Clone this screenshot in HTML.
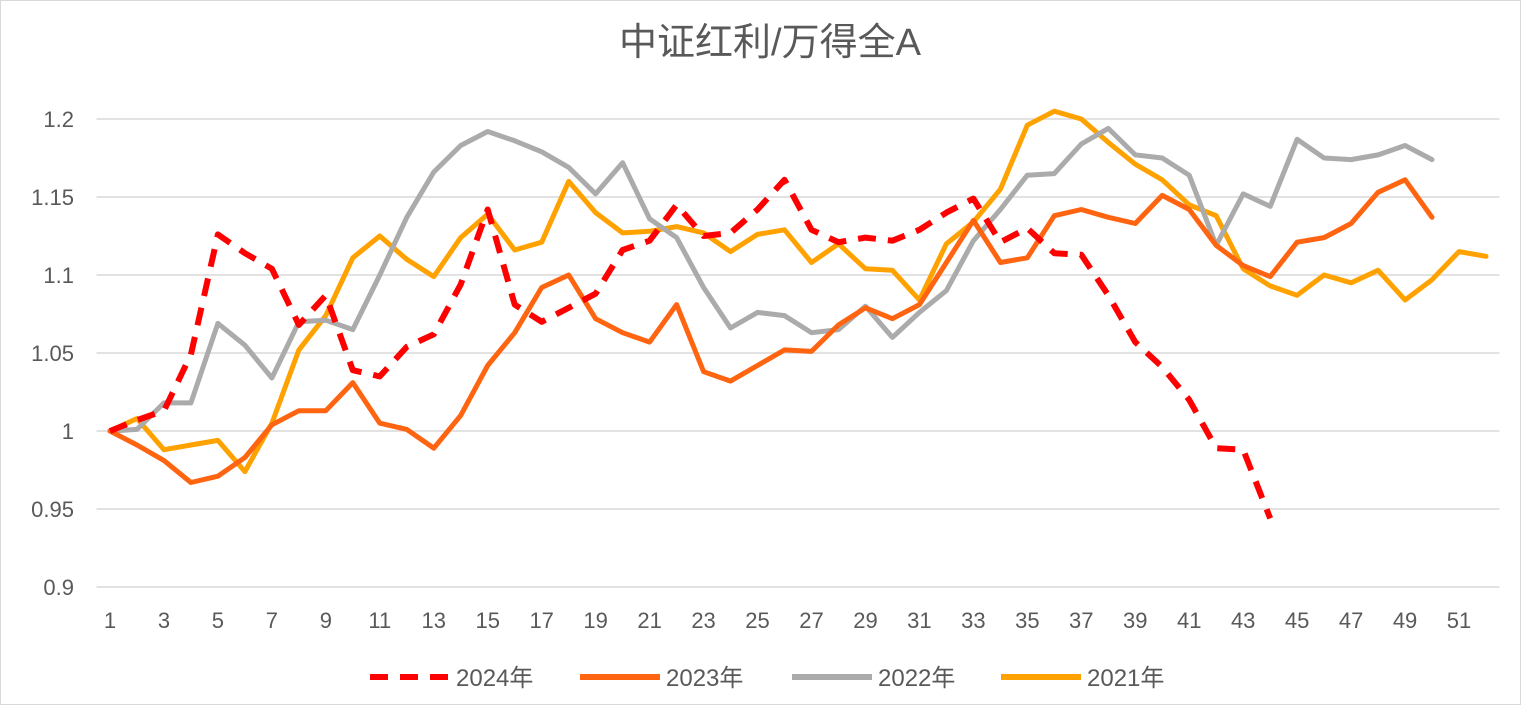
<!DOCTYPE html>
<html><head><meta charset="utf-8">
<style>
html,body{margin:0;padding:0;background:#fff;}
svg{display:block;font-family:"Liberation Sans","Noto Sans CJK SC",sans-serif;}
</style></head>
<body>
<svg id="chart" width="1521" height="705">
<rect x="0.5" y="0.5" width="1520" height="704" fill="#fff" stroke="#d9d9d9"/>
<text x="770" y="55" text-anchor="middle" font-size="38" fill="#595959">中证红利/万得全A</text>
<g id="grid"></g><g id="ylabels"></g><g id="xlabels"></g><g id="series"></g><g id="legend"></g>
</svg>
<script>
const categories = Array.from({length:52},(_,i)=>i+1);
const yTicks = [0.9,0.95,1,1.05,1.1,1.15,1.2];
const yTickLabels = ["0.9","0.95","1","1.05","1.1","1.15","1.2"];
const s2024 = [1.0,1.007,1.013,1.049,1.126,1.114,1.104,1.068,1.087,1.039,1.035,1.054,1.062,1.094,1.142,1.081,1.070,1.079,1.088,1.116,1.122,1.145,1.125,1.127,1.142,1.161,1.129,1.121,1.124,1.122,1.129,1.140,1.149,1.121,1.130,1.114,1.113,1.087,1.057,1.041,1.020,0.989,0.988,0.944];
const s2023 = [1.0,0.991,0.981,0.967,0.971,0.983,1.004,1.013,1.013,1.031,1.005,1.001,0.989,1.010,1.042,1.063,1.092,1.100,1.072,1.063,1.057,1.081,1.038,1.032,1.042,1.052,1.051,1.068,1.079,1.072,1.081,1.108,1.135,1.108,1.111,1.138,1.142,1.137,1.133,1.151,1.142,1.119,1.106,1.099,1.121,1.124,1.133,1.153,1.161,1.137];
const s2022 = [1.0,1.001,1.018,1.018,1.069,1.055,1.034,1.070,1.071,1.065,1.100,1.137,1.166,1.183,1.192,1.186,1.179,1.169,1.152,1.172,1.136,1.124,1.092,1.066,1.076,1.074,1.063,1.065,1.080,1.060,1.076,1.090,1.122,1.142,1.164,1.165,1.184,1.194,1.177,1.175,1.164,1.119,1.152,1.144,1.187,1.175,1.174,1.177,1.183,1.174];
const s2021 = [1.0,1.008,0.988,0.991,0.994,0.974,1.005,1.052,1.074,1.111,1.125,1.110,1.099,1.124,1.139,1.116,1.121,1.160,1.140,1.127,1.128,1.131,1.127,1.115,1.126,1.129,1.108,1.120,1.104,1.103,1.084,1.120,1.134,1.155,1.196,1.205,1.200,1.185,1.171,1.161,1.145,1.138,1.104,1.093,1.087,1.100,1.095,1.103,1.084,1.097,1.115,1.112];
const seriesNames = ["2024年","2023年","2022年","2021年"];

const NS="http://www.w3.org/2000/svg";
const L=96.5, R=1499.5, step=(R-L)/categories.length;
const x = c => L + (c-0.5)*step;
const y = v => 431 - (v-1)*1560;
function mk(tag, attrs, parent){const e=document.createElementNS(NS,tag);for(const k in attrs)e.setAttribute(k,attrs[k]);parent.appendChild(e);return e;}
const grid=document.getElementById('grid'), yl=document.getElementById('ylabels'), xl=document.getElementById('xlabels'), sg=document.getElementById('series'), lg=document.getElementById('legend');
yTicks.forEach((t,i)=>{
  const g=mk('line',{x1:L,x2:R,y1:y(t),y2:y(t),stroke:'#d9d9d9','stroke-width':1.5},grid);
  
  
  const tx=mk('text',{x:74,y:y(t)+8,'text-anchor':'end','font-size':22,fill:'#595959'},yl);
  tx.textContent=yTickLabels[i];
  
  
});
categories.forEach(c=>{
  if(c%2===1){
    const tx=mk('text',{x:x(c),y:628,'text-anchor':'middle','font-size':22,fill:'#595959'},xl);
    tx.textContent=c;
    
    
  }
});
const styles=[
  {data:s2021,color:'#FFA200',dash:null,name:'series-2021',w:5},
  {data:s2022,color:'#ABABAB',dash:null,name:'series-2022',w:5},
  {data:s2023,color:'#FF6410',dash:null,name:'series-2023',w:5},
  {data:s2024,color:'#FF0000',dash:'18 12',name:'series-2024',w:6}
];
styles.forEach(s=>{
  const d=s.data.map((v,i)=>(i?'L':'M')+x(categories[i]).toFixed(1)+' '+y(v).toFixed(1)).join(' ');
  const p=mk('path',{d:d,fill:'none',stroke:s.color,'stroke-width':s.w,'stroke-linejoin':'round','stroke-linecap':s.dash?'butt':'round'},sg);
  if(s.dash)p.setAttribute('stroke-dasharray',s.dash);
  
  
});
const leg=[{c:'#FF0000',d:'18 12',x:370},{c:'#FF6410',d:null,x:580},{c:'#ABABAB',d:null,x:792},{c:'#FFA200',d:null,x:1001}];
leg.forEach((l,i)=>{
  const ln=mk('line',{x1:l.x,x2:l.x+80,y1:677,y2:677,stroke:l.c,'stroke-width':6},lg);
  if(l.d)ln.setAttribute('stroke-dasharray',l.d);
  
  
  const t=mk('text',{x:l.x+86,y:686,'font-size':24,fill:'#595959'},lg);
  t.textContent=seriesNames[i];
  
  
});
</script>
</body></html>
